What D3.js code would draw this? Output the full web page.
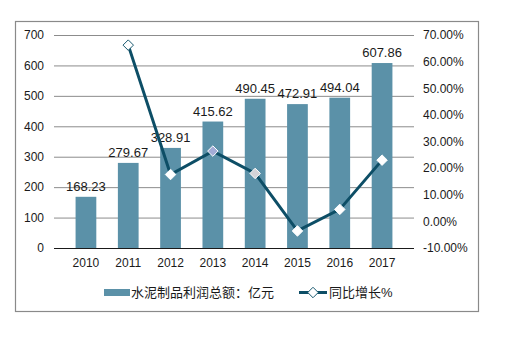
<!DOCTYPE html>
<html lang="zh">
<head>
<meta charset="UTF-8">
<title>水泥制品利润总额</title>
<script src="https://d3js.org/d3.v7.min.js"></script>
<style>
  body { margin: 0; background: #fff; }
  text { font-family: "Liberation Sans", Arial, "Noto Sans CJK SC", sans-serif; fill: #1a1a1a; }
  .grid line { stroke: #8c8c8c; stroke-width: 1; }
  .grid path { display: none; }
  .axis path, .axis line { display: none; }
</style>
</head>
<body>
<svg id="chart" width="507" height="351"></svg>
<script>
// data
const years = ["2010", "2011", "2012", "2013", "2014", "2015", "2016", "2017"];
const profit = [168.23, 279.67, 328.91, 415.62, 490.45, 472.91, 494.04, 607.86];
const growth = [null, 66.2, 17.6, 26.4, 18.0, -3.6, 4.5, 23.0];
const leftTicks = [0, 100, 200, 300, 400, 500, 600, 700];
const rightTicks = [-10, 0, 10, 20, 30, 40, 50, 60, 70];
const markerFill = [null, "#ffffff", "#ffffff", "#a3acd6", "#d4d4d8", "#ffffff", "#ffffff", "#ffffff"];

const svg = d3.select("#chart");
const m = { left: 54, right: 414, top: 35, bottom: 248 };

// outer frame
svg.append("rect")
   .attr("x", 15.5).attr("y", 21.5)
   .attr("width", 463).attr("height", 290)
   .attr("fill", "none").attr("stroke", "#8a8a8a").attr("stroke-width", 1.2);

const x = d3.scaleBand().domain(years).range([m.left, m.right]).padding(0.51);
const y = d3.scaleLinear().domain([0, 700]).range([m.bottom, m.top]);
const y2 = d3.scaleLinear().domain([-10, 70]).range([m.bottom, m.top]);

// grid
svg.append("g")
   .attr("class", "grid")
   .attr("transform", `translate(${m.left},0)`)
   .call(d3.axisLeft(y).tickValues(leftTicks).tickSize(-(m.right - m.left)).tickFormat(""));

// left axis labels
const ay = svg.append("g")
   .attr("class", "axis")
   .attr("transform", `translate(${m.left},0)`)
   .call(d3.axisLeft(y).tickValues(leftTicks).tickSize(0).tickPadding(10));
ay.selectAll("text").style("font-size", "12px").attr("fill", "#1a1a1a");

// right axis labels
const ay2 = svg.append("g")
   .attr("class", "axis")
   .attr("transform", `translate(${m.right},0)`)
   .call(d3.axisRight(y2).tickValues(rightTicks).tickSize(0).tickPadding(9)
           .tickFormat(d => d.toFixed(2) + "%"));
ay2.selectAll("text").style("font-size", "12px").attr("fill", "#1a1a1a");

// bars
svg.selectAll(".bar")
   .data(years)
   .enter()
   .append("rect")
   .attr("class", "bar")
   .attr("x", d => x(d))
   .attr("y", (d, i) => y(profit[i]))
   .attr("width", x.bandwidth())
   .attr("height", (d, i) => y(0) - y(profit[i]))
   .attr("fill", "#5b91a8");

// bottom axis
const ax = svg.append("g")
   .attr("class", "axis")
   .attr("transform", `translate(0,${m.bottom})`)
   .call(d3.axisBottom(x).tickSize(0).tickPadding(10));
ax.selectAll("text").style("font-size", "12px").attr("fill", "#1a1a1a");
svg.append("line")
   .attr("x1", m.left).attr("x2", m.right)
   .attr("y1", m.bottom + 0.5).attr("y2", m.bottom + 0.5)
   .attr("stroke", "#1a1a1a").attr("stroke-width", 1.2);

// bar labels
svg.selectAll(".label")
   .data(years)
   .enter()
   .append("text")
   .attr("class", "label")
   .attr("x", d => x(d) + x.bandwidth() / 2)
   .attr("y", (d, i) => y(profit[i]) - 6)
   .attr("text-anchor", "middle")
   .style("font-size", "13px")
   .text((d, i) => profit[i].toFixed(2));

// growth line
const pts = years.map((d, i) => ({ year: d, v: growth[i], fill: markerFill[i] })).filter(d => d.v !== null);
const cx = d => x(d.year) + x.bandwidth() / 2;

svg.append("path")
   .datum(pts)
   .attr("fill", "none")
   .attr("stroke", "#0d4e66")
   .attr("stroke-width", 3)
   .attr("d", d3.line().x(cx).y(d => y2(d.v)));

const diamond = d3.symbol().type(d3.symbolDiamond2).size(70);
svg.selectAll(".mk")
   .data(pts)
   .enter()
   .append("path")
   .attr("class", "mk")
   .attr("transform", d => `translate(${cx(d)},${y2(d.v)})`)
   .attr("d", diamond)
   .attr("fill", d => d.fill)
   .attr("stroke", (d, i) => i === 0 ? "#1a5a70" : "#ffffff")
   .attr("stroke-width", 1);

// legend
const lg = svg.append("g");
lg.append("rect")
  .attr("x", 104).attr("y", 289).attr("width", 26).attr("height", 7)
  .attr("fill", "#5b91a8");
lg.append("text")
  .attr("x", 131).attr("y", 297)
  .style("font-size", "13px")
  .text("水泥制品利润总额：亿元");
lg.append("line")
  .attr("x1", 299).attr("x2", 327).attr("y1", 292.5).attr("y2", 292.5)
  .attr("stroke", "#0d4e66").attr("stroke-width", 3);
lg.append("path")
  .attr("transform", "translate(313,292.5)")
  .attr("d", diamond)
  .attr("fill", "#fff").attr("stroke", "#1a5a70").attr("stroke-width", 1);
lg.append("text")
  .attr("x", 329).attr("y", 297)
  .style("font-size", "13px")
  .text("同比增长%");
</script>
</body>
</html>
